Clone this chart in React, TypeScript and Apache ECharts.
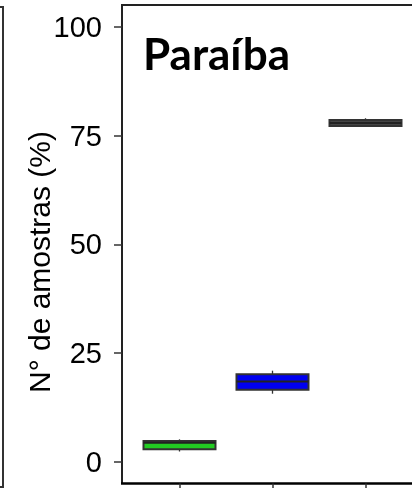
import React, { useEffect, useRef } from "react";
import * as echarts from "echarts";

const categories = ["Grupo 1", "Grupo 2", "Grupo 3"];
const mins = [2.3, 15.6, 77.1];
const q1s = [2.8, 16.5, 77.2];
const medians = [4.3, 18.4, 77.9];
const q3s = [4.7, 20.1, 78.6];
const maxs = [5.1, 20.9, 79.0];
const fills = ["#22cc22", "#0000f0", "#444444"];
const yTicks = [0, 25, 50, 75, 100];
const panelTitle = "Paraíba";
const yName = "N° de amostras (%)";

export default function App() {
  const ref = useRef<HTMLDivElement>(null);
  useEffect(() => {
    if (!ref.current) return;
    const chart = echarts.init(ref.current, undefined, { renderer: "svg" });
    const data = categories.map((_, i) => [i, mins[i], q1s[i], medians[i], q3s[i], maxs[i]]);
    chart.setOption({
      animation: false,
      grid: { left: 133, right: -3, top: 5, bottom: 4.5, containLabel: false },
      xAxis: {
        type: "category",
        data: categories,
        axisLine: { show: false, onZero: false },
        axisTick: { show: true, alignWithLabel: true, length: 6, lineStyle: { color: "#333", width: 1.5 } },
        axisLabel: { show: false },
        splitLine: { show: false },
      },
      yAxis: {
        type: "value",
        min: -5.063,
        max: 105.063,
        offset: 11,
        axisLine: { show: false, onZero: false },
        axisTick: { show: true, length: 8, customValues: yTicks, lineStyle: { color: "#333", width: 1.5 } },
        axisLabel: { margin: 20, fontSize: 29, color: "#000", fontFamily: "Liberation Sans", customValues: yTicks },
        splitLine: { show: false },
      },
      graphic: [
        {
          type: "polyline",
          shape: { points: [[122, 483.5], [122, 5], [420, 5]] },
          style: { stroke: "#222", lineWidth: 2, fill: "none" },
        },
        {
          type: "line",
          shape: { x1: 121, y1: 483.5, x2: 420, y2: 483.5 },
          style: { stroke: "#000", lineWidth: 2.5 },
        },
        {
          type: "polyline",
          shape: { points: [[-5, 7], [3, 7], [3, 487], [-5, 487]] },
          style: { stroke: "#333", lineWidth: 2, fill: "none" },
        },
        {
          type: "text",
          x: 143,
          y: 53,
          style: {
            text: panelTitle,
            font: "bold 44px Lato",
            fill: "#000",
            align: "left",
            verticalAlign: "middle",
          },
        },
        {
          type: "text",
          x: 39,
          y: 262,
          rotation: Math.PI / 2,
          style: {
            text: yName,
            font: "30px 'Liberation Sans'",
            fill: "#000",
            align: "center",
            verticalAlign: "middle",
          },
        },
      ],
      series: [
        {
          type: "custom",
          data,
          encode: { x: 0, y: [1, 2, 3, 4, 5] },
          renderItem: (params: any, api: any) => {
            const xi = api.value(0);
            const pMin = api.coord([xi, api.value(1)]);
            const pQ1 = api.coord([xi, api.value(2)]);
            const pMed = api.coord([xi, api.value(3)]);
            const pQ3 = api.coord([xi, api.value(4)]);
            const pMax = api.coord([xi, api.value(5)]);
            const cx = pMin[0];
            const half = 36;
            return {
              type: "group",
              children: [
                {
                  type: "line",
                  shape: { x1: cx, y1: pMax[1], x2: cx, y2: pMin[1] },
                  style: { stroke: "#333", lineWidth: 1.3 },
                },
                {
                  type: "rect",
                  shape: { x: cx - half, y: pQ3[1], width: half * 2, height: pQ1[1] - pQ3[1] },
                  style: { fill: fills[params.dataIndex], stroke: "#333", lineWidth: 2 },
                },
                {
                  type: "line",
                  shape: { x1: cx - half, y1: pMed[1], x2: cx + half, y2: pMed[1] },
                  style: { stroke: "#222", lineWidth: 2 },
                },
              ],
            };
          },
        },
      ],
    });
    return () => chart.dispose();
  }, []);
  return <div ref={ref} style={{ position: "fixed", left: 0, top: 0, width: 412, height: 488 }} />;
}
